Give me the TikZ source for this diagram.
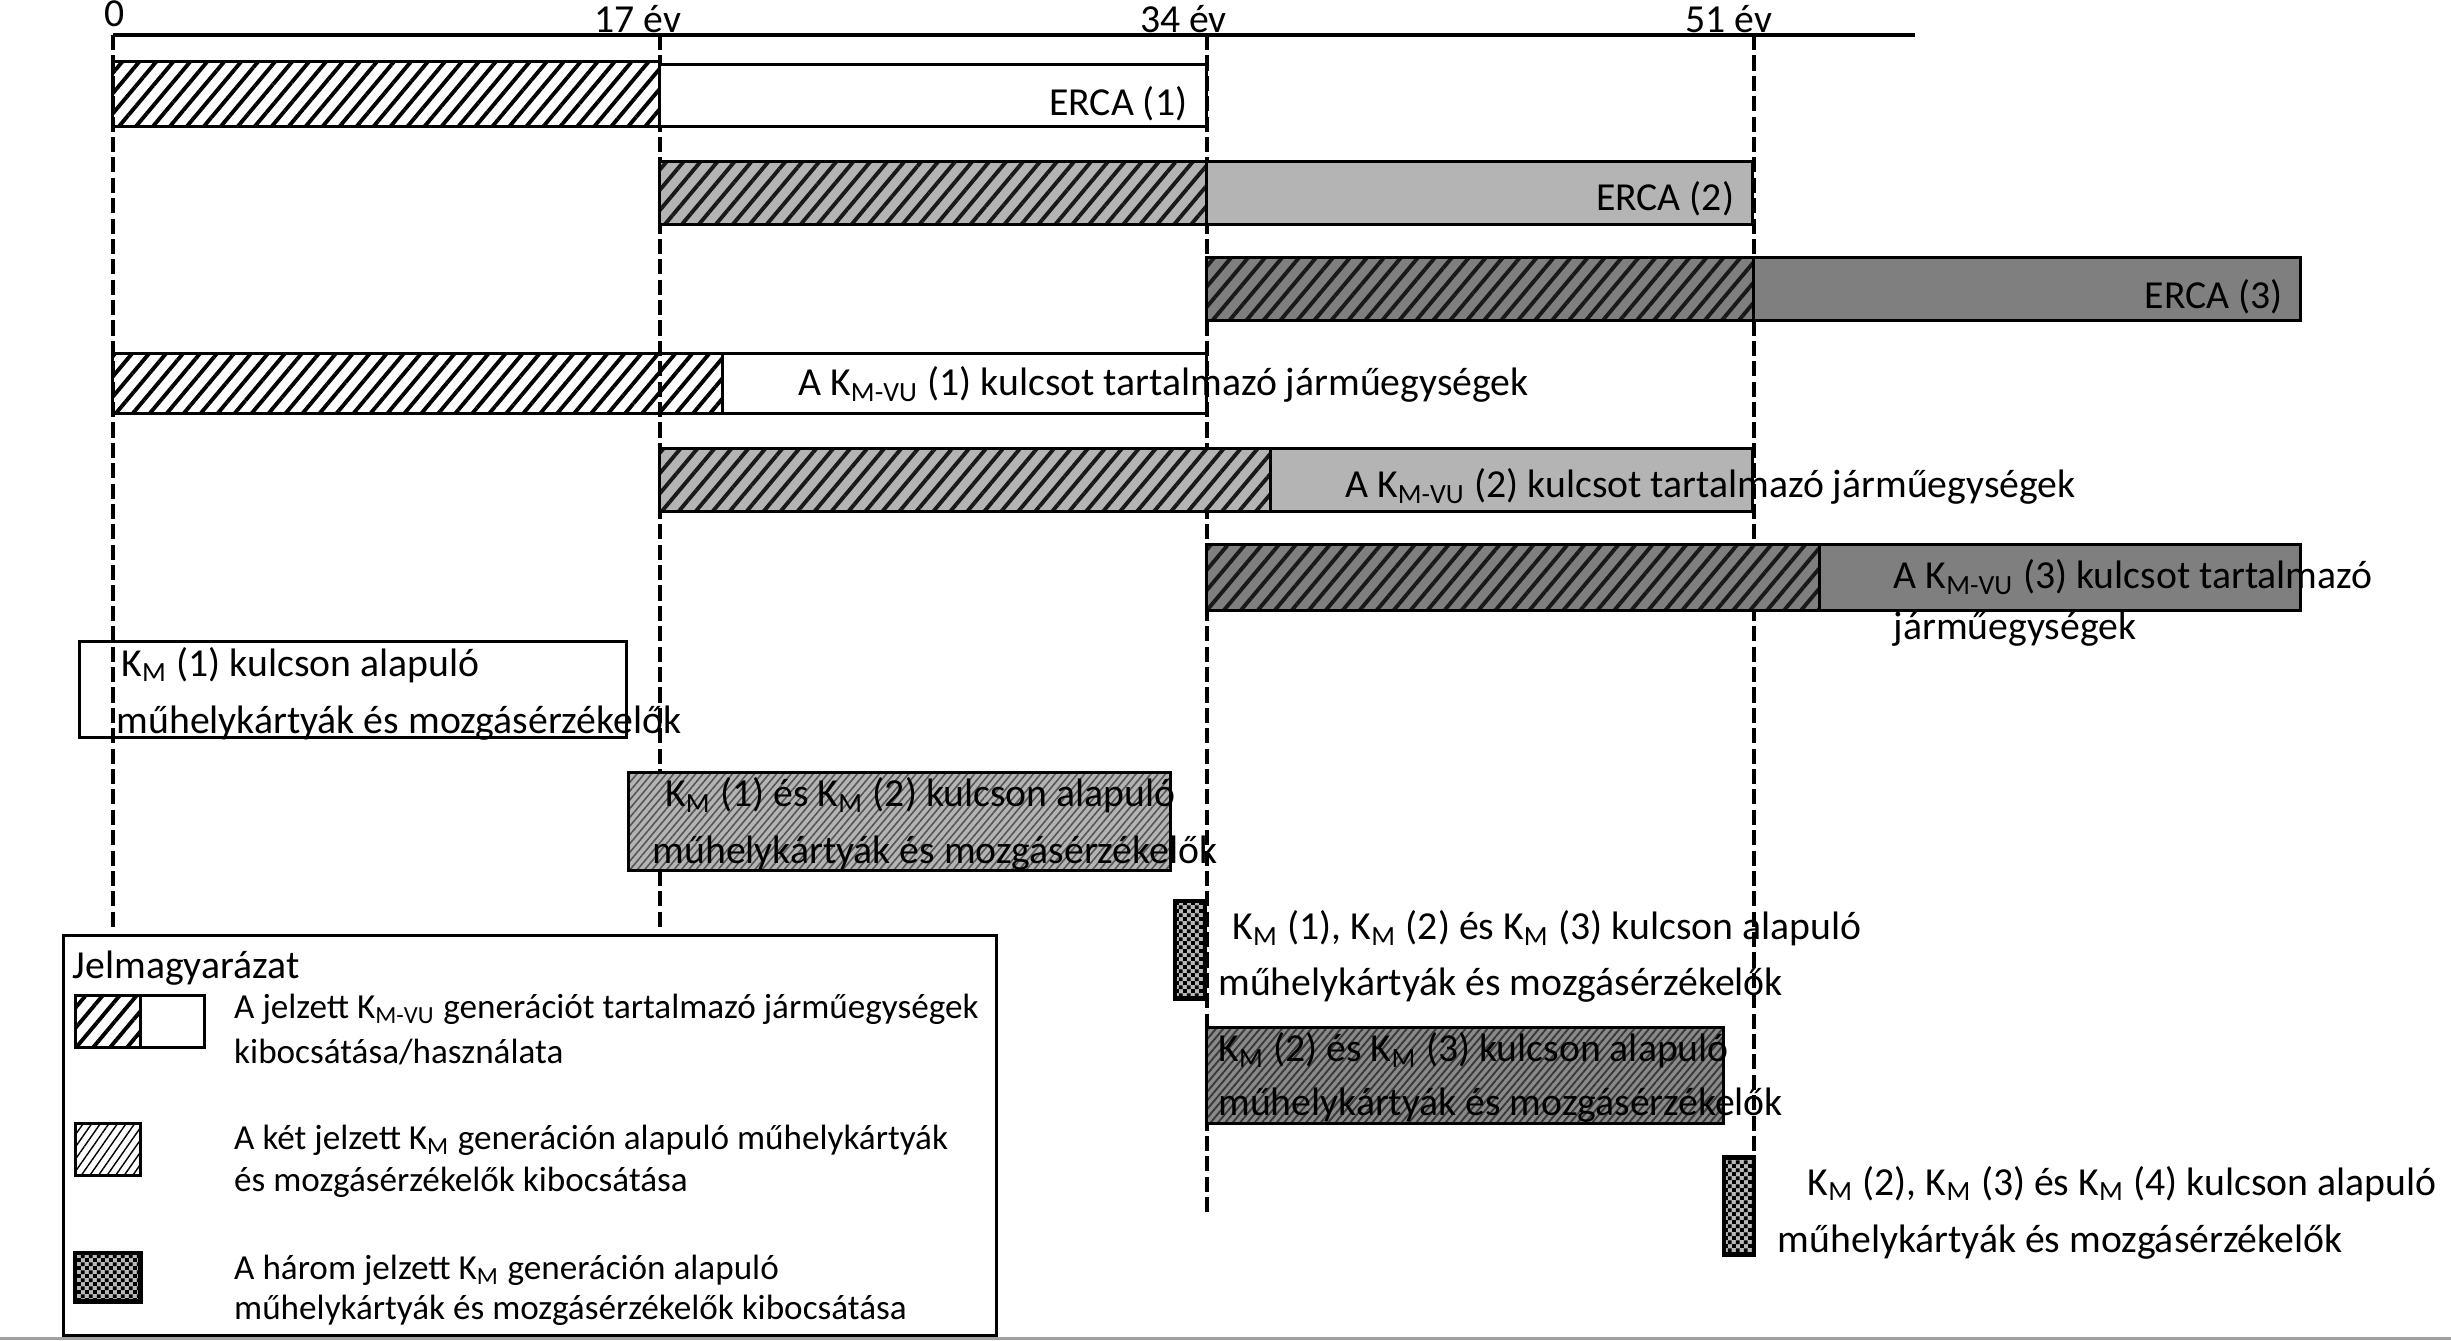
\documentclass[tikz,border=0pt]{standalone}
\usepackage{fontspec}
\setmainfont{Carlito}
\usetikzlibrary{patterns,patterns.meta}
\definecolor{lgray}{HTML}{B4B4B4}
\definecolor{dgray}{HTML}{7F7F7F}
\definecolor{mgray}{HTML}{B4B4B4}
\definecolor{mline}{HTML}{555555}
\definecolor{ddgray}{HTML}{8A8A8A}
\definecolor{ddline}{HTML}{3A3A3A}
\definecolor{chkgray}{HTML}{B8B8B8}
\definecolor{edgegray}{HTML}{A0A0A0}
\pgfdeclarepatternformonly{chk}{\pgfqpoint{0pt}{0pt}}{\pgfqpoint{2.2pt}{2.2pt}}{\pgfqpoint{2.2pt}{2.2pt}}{%
  \pgfpathrectangle{\pgfqpoint{0pt}{0pt}}{\pgfqpoint{1.1pt}{1.1pt}}%
  \pgfpathrectangle{\pgfqpoint{1.1pt}{1.1pt}}{\pgfqpoint{1.1pt}{1.1pt}}%
  \pgfusepath{fill}}
\newcommand{\mainsz}{\fontsize{11.3}{13}\selectfont}
\newcommand{\legsz}{\fontsize{10}{12}\selectfont}
\newcommand{\kM}{K\textsubscript{M}}
\newcommand{\kMVU}{K\textsubscript{M-VU}}
\tikzset{
  bx/.style={draw=black, line width=0.85pt},
  hatchW/.style={bx, pattern={Lines[angle=50,distance=3.7pt,line width=1.1pt]}, pattern color=black},
  hatchL/.style={bx, preaction={fill=lgray}, pattern={Lines[angle=50,distance=3.7pt,line width=1.1pt]}, pattern color=black!90},
  hatchD/.style={bx, preaction={fill=dgray}, pattern={Lines[angle=50,distance=3.7pt,line width=1.1pt]}, pattern color=black!90},
  plainW/.style={bx, fill=white},
  plainL/.style={bx, fill=lgray},
  plainD/.style={bx, fill=dgray},
  fineL/.style={bx, preaction={fill=mgray}, pattern={Lines[angle=50,distance=1.6pt,line width=0.45pt]}, pattern color=mline},
  fineD/.style={bx, preaction={fill=ddgray}, pattern={Lines[angle=50,distance=1.6pt,line width=0.55pt]}, pattern color=ddline},
  fineW/.style={bx, pattern={Lines[angle=55,distance=2pt,line width=0.4pt]}, pattern color=black},
  chkbox/.style={draw=black, line width=1.2pt, preaction={fill=chkgray}, pattern=chk, pattern color=black},
  vdash/.style={line width=1.1pt, dash pattern=on 4.3pt off 1.5pt},
  lbl/.style={inner sep=0pt, anchor=west, font=\mainsz},
  lblr/.style={inner sep=0pt, anchor=east, font=\mainsz},
  leg/.style={inner sep=0pt, anchor=west, font=\legsz},
}
\begin{document}
\begin{tikzpicture}[x=0.015671cm, y=-0.015636cm]
\useasboundingbox (0,0) rectangle (1564,857);
% axis
\coordinate (t0) at (72,22.4);
\coordinate (t17) at (421,22.4);
\coordinate (t34) at (770,22.4);
\coordinate (t51) at (1119,22.4);
\coordinate (axE) at (1222,22.4);
\coordinate (b0) at (72,595);
\coordinate (b17) at (421,595);
\coordinate (b34) at (770,778);
\coordinate (b51) at (1119,740);
\draw[vdash] (t0) -- (b0);
\draw[vdash] (t17) -- (b17);
\draw[vdash] (t34) -- (b34);
\draw[vdash] (t51) -- (b51);
\draw[line width=1.2pt] (t0) -- (axE);
\node[inner sep=0pt, anchor=base west, font=\mainsz] (l0) at (66,17) {0};
\node[inner sep=0pt, anchor=base west, font=\mainsz] (l17) at (379,21) {17 év};
\node[inner sep=0pt, anchor=base west, font=\mainsz] (l34) at (727,21) {34 év};
\node[inner sep=0pt, anchor=base west, font=\mainsz] (l51) at (1075,21) {51 év};
% ERCA rows
\draw[hatchW] (72,39.5) rectangle (421,81);
\draw[plainW] (421,41) rectangle (770,81);
\draw[hatchL] (421,103) rectangle (770,143.3);
\draw[plainL] (770,103) rectangle (1118,143.3);
\draw[hatchD] (770,164.5) rectangle (1119,204.8);
\draw[plainD] (1119,164.5) rectangle (1468,204.8);
\node[lblr] (e1) at (758,66) {ERCA (1)};
\node[lblr] (e2) at (1107,127) {ERCA (2)};
\node[lblr] (e3) at (1457,190) {ERCA (3)};
% KM-VU rows
\draw[hatchW] (72,226) rectangle (461,264.5);
\draw[plainW] (461,226) rectangle (770,264.5);
\draw[hatchL] (421,286.6) rectangle (811,327);
\draw[plainL] (811,286.6) rectangle (1118,327);
\draw[hatchD] (770,348) rectangle (1161,390.5);
\draw[plainD] (1161,348) rectangle (1468,390.5);
\node[lbl] (v1) at (509,246) {A \kMVU\ (1) kulcsot tartalmazó járműegységek};
\node[lbl] (v2) at (858,311) {A \kMVU\ (2) kulcsot tartalmazó járműegységek};
\node[lbl] (v3a) at (1208,369) {A \kMVU\ (3) kulcsot tartalmazó};
\node[lbl] (v3b) at (1208,402) {járműegységek};
% KM rows
\draw[bx] (51,410) rectangle (400,471.4);
\node[lbl] (k1a) at (77,425) {\kM\ (1) kulcson alapuló};
\node[lbl] (k1b) at (74,462.5) {műhelykártyák és mozgásérzékelők};
\draw[fineL] (401,494) rectangle (747,556.4);
\node[lbl] (k12a) at (424,508.5) {\kM\ (1) és \kM\ (2) kulcson alapuló};
\node[lbl] (k12b) at (416,545.7) {műhelykártyák és mozgásérzékelők};
\draw[chkbox] (750,576) rectangle (769,638.4);
\node[lbl] (k123a) at (786,593.6) {\kM\ (1), \kM\ (2) és \kM\ (3) kulcson alapuló};
\node[lbl] (k123b) at (777,630) {műhelykártyák és mozgásérzékelők};
\draw[fineD] (770,656.7) rectangle (1100,718.4);
\node[lbl] (k23a) at (777,671.5) {\kM\ (2) és \kM\ (3) kulcson alapuló};
\node[lbl] (k23b) at (777,706.7) {műhelykártyák és mozgásérzékelők};
\draw[chkbox] (1100,740) rectangle (1119,802);
\node[lbl] (k234a) at (1153,756.8) {\kM\ (2), \kM\ (3) és \kM\ (4) kulcson alapuló};
\node[lbl] (k234b) at (1134,794) {műhelykártyák és mozgásérzékelők};
% legend
\draw[bx, fill=white] (40.6,598) rectangle (636,853.8);
\node[lbl] (lt) at (46,619) {Jelmagyarázat};
\draw[hatchW] (48,636.4) rectangle (89.7,669.4);
\draw[bx] (89.7,636.4) rectangle (130.3,669.4);
\node[leg] (g1a) at (149,645) {A jelzett \kMVU\ generációt tartalmazó járműegységek};
\node[leg] (g1b) at (149,672.6) {kibocsátása/használata};
\draw[fineW] (48,718) rectangle (89.7,751.5);
\node[leg] (g2a) at (149,729) {A két jelzett \kM\ generáción alapuló műhelykártyák};
\node[leg] (g2b) at (149,755.7) {és mozgásérzékelők kibocsátása};
\draw[chkbox] (48,801) rectangle (89.7,832);
\node[leg] (g3a) at (149,812) {A három jelzett \kM\ generáción alapuló};
\node[leg] (g3b) at (149,838) {műhelykártyák és mozgásérzékelők kibocsátása};
% bottom page edge
\fill[edgegray] (0,854.5) rectangle (1564,857);
\end{tikzpicture}
\end{document}
